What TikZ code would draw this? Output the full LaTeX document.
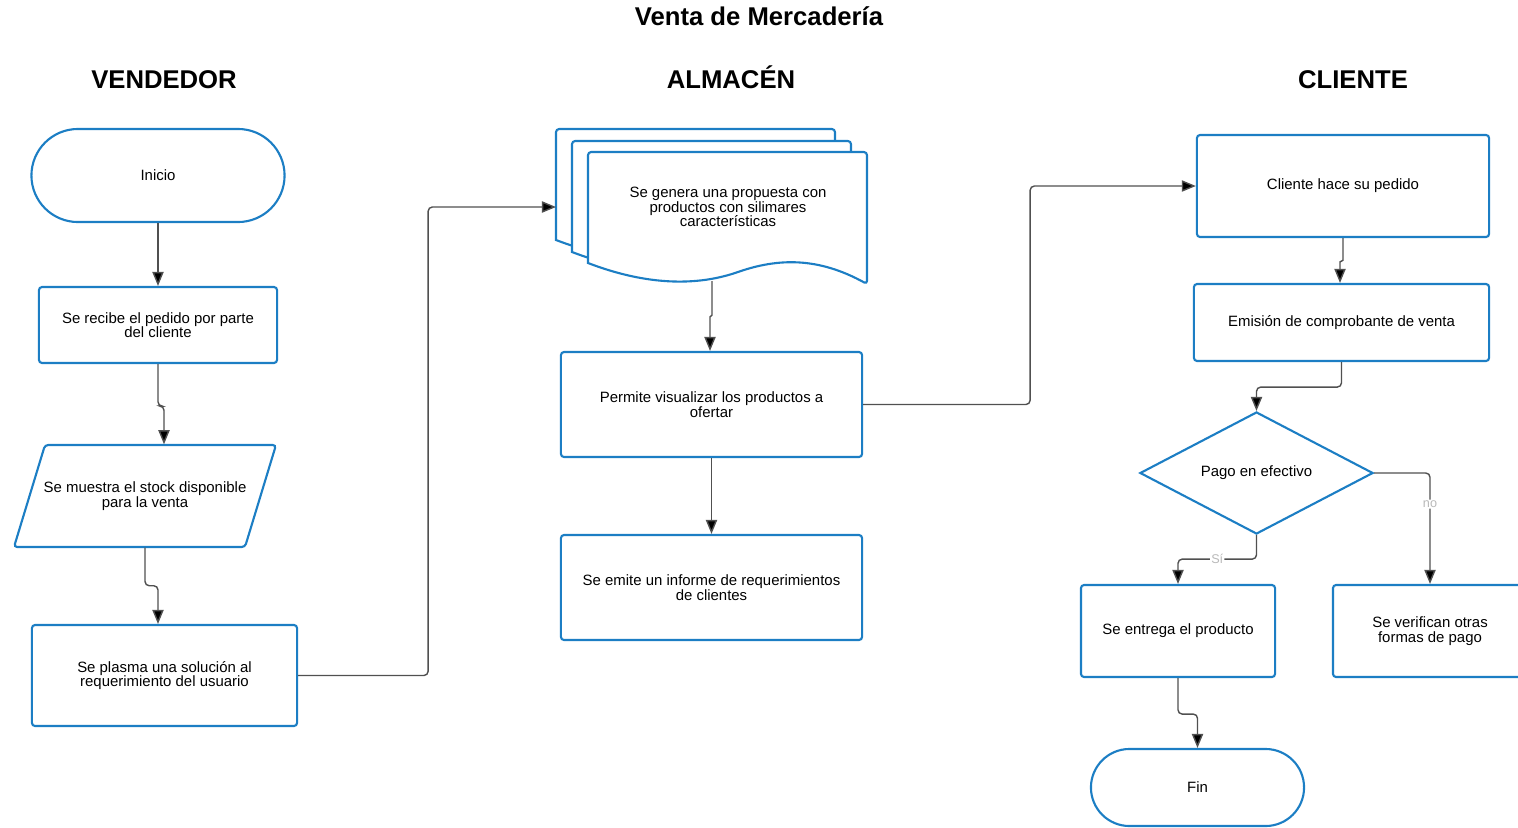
\documentclass[tikz,border=0pt]{standalone}
\usepackage{fontspec}
\setmainfont{Liberation Sans}
\usetikzlibrary{shapes.geometric,shapes.misc,arrows.meta,calc}
\definecolor{boxblue}{RGB}{28,126,196}
\definecolor{linegray}{RGB}{80,80,80}

\begin{document}
\begin{tikzpicture}[x=0.01cm,y=-0.01cm,
  box/.style={draw=boxblue,line width=0.6pt,fill=white,align=center,inner sep=0pt,
    font=\fontsize{4.25}{4.1}\selectfont},
  proc/.style={box,rectangle,rounded corners=0.9pt},
  term/.style={box,rounded rectangle},
  ttl/.style={anchor=base,font=\fontsize{7.3}{8}\selectfont\bfseries},
  conn/.style={draw=linegray,line width=0.4pt,rounded corners=1.2pt,
    -{Triangle[length=4pt,width=3.2pt,fill=black]}},
  lbl/.style={text=gray!55,fill=white,inner sep=0.3pt,font=\fontsize{3.6}{3.6}\selectfont}
]

\useasboundingbox (0,0) rectangle (1518,827);
\clip (0,0) rectangle (1518,827);

% titles
\node[ttl] (titulo) at (759,25) {Venta de Mercadería};
\node[ttl] (vendedor) at (164,88) {VENDEDOR};
\node[ttl] (almacen) at (731,88) {ALMACÉN};
\node[ttl] (cliente) at (1353,88) {CLIENTE};

% vendedor
\node[term,minimum width=2.53cm,minimum height=0.93cm] (inicio) at (158,175.5) {Inicio};
\node[proc,minimum width=2.38cm,minimum height=0.76cm] (recibe) at (158,325)
  {Se recibe el pedido por parte\\del cliente};
\draw[draw=boxblue,line width=0.6pt,rounded corners=0.9pt]
  (45,445) -- (276,445) -- (245,547) -- (14,547) -- cycle;
\node[align=center,inner sep=0pt,minimum height=1.02cm,
  font=\fontsize{4.25}{4.1}\selectfont] (stock) at (145,496)
  {Se muestra el stock disponible\\para la venta};
\node[proc,minimum width=2.65cm,minimum height=1.01cm] (plasma) at (164.5,675.5)
  {Se plasma una solución al\\requerimiento del usuario};

% almacen
\foreach \x/\y in {556/129,572/141,588/152}
  \draw[draw=boxblue,line width=0.6pt,fill=white,rounded corners=0.9pt]
    (\x,{\y+111}) -- (\x,\y) -- ({\x+279},\y) -- ({\x+279},{\y+132})
    [sharp corners] .. controls ({\x+230},{\y+105}) and ({\x+190},{\y+106}) .. ({\x+150},{\y+120})
    .. controls ({\x+110},{\y+134}) and ({\x+60},{\y+134}) .. (\x,{\y+111}) -- cycle;
\node[font=\fontsize{4.25}{4.1}\selectfont,align=center] (propuesta) at (728,207)
  {Se genera una propuesta con\\productos con silimares\\características};
\coordinate (docin) at (556,207);
\coordinate (docout) at (712,281);
\node[proc,minimum width=3.01cm,minimum height=1.05cm] (visual) at (711.5,404.5)
  {Permite visualizar los productos a\\ofertar};
\node[proc,minimum width=3.01cm,minimum height=1.05cm] (informe) at (711.5,587.5)
  {Se emite un informe de requerimientos\\de clientes};

% cliente
\node[proc,minimum width=2.92cm,minimum height=1.02cm] (pedido) at (1343,186)
  {Cliente hace su pedido};
\node[proc,minimum width=2.95cm,minimum height=0.77cm] (emision) at (1341.5,322.5)
  {Emisión de comprobante de venta};
\node[box,diamond,aspect=1.9,minimum width=2.33cm,minimum height=1.22cm] (pago)
  at (1256.5,473) {Pago en efectivo};
\node[proc,minimum width=1.94cm,minimum height=0.92cm] (entrega) at (1178,631)
  {Se entrega el producto};
\node[proc,minimum width=1.94cm,minimum height=0.92cm] (otras) at (1430,631)
  {Se verifican otras\\formas de pago};
\node[term,minimum width=2.13cm,minimum height=0.77cm] (fin) at (1197.5,787.5) {Fin};

% connectors
\draw[conn] (inicio.south) -- (recibe.north);
\draw[conn] (recibe.south) -- ++(0,42) -| ($(stock.north)+(19,0)$);
\draw[conn] (stock.south) -- ++(0,38) -| ($(plasma.north)+(-6.5,0)$);
\draw[conn] (plasma.east) -- ++(130,0) |- (docin);
\draw[conn] (docout) -- ++(0,30) to[out=-90,in=90] ++(-2,10) -- ($(visual.north)+(-1.5,0)$);
\draw[conn] (visual.south) -- (informe.north);
\draw[conn] (visual.east) -- ++(167,0) |- (pedido.west);
\draw[conn] (pedido.south) -- ++(0,18) to[out=-90,in=90] ++(-3,10) -- ($(emision.north)+(-1.5,0)$);
\draw[conn] (emision.south) -- ++(0,25) -| (pago.north);
\draw[conn] (pago.south) -- ++(0,24) -| node[pos=0.25,lbl] {Sí} (entrega.north);
\draw[conn] (pago.east) -| node[pos=0.64,lbl] {no} (otras.north);
\draw[conn] (entrega.south) -- ++(0,36) -| (fin.north);

\end{tikzpicture}
\end{document}
